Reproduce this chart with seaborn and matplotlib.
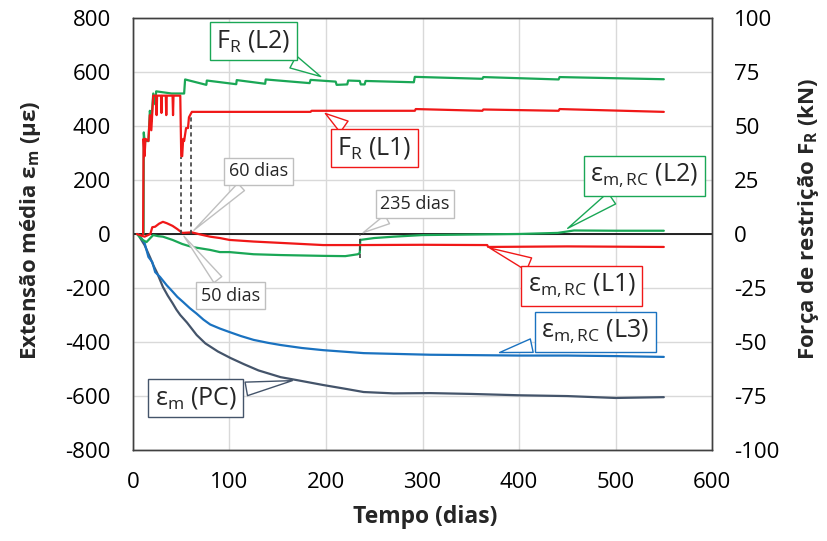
import numpy as np
import pandas as pd
import matplotlib
matplotlib.use("Agg")
import matplotlib.pyplot as plt
import seaborn as sns

sns.set_style("white")
plt.rcParams['font.family'] = ['Open Sans', 'DejaVu Sans']
plt.rcParams['mathtext.fontset'] = 'custom'
plt.rcParams['mathtext.rm'] = 'Open Sans'
plt.rcParams['mathtext.bf'] = 'Open Sans:bold'
plt.rcParams['mathtext.it'] = 'Open Sans:italic'
plt.rcParams['axes.unicode_minus'] = False

# ---- data ----
# restraint force (kN), right axis
fr_l2_t = [11, 11.2, 12, 16, 17.5, 19, 21, 23, 24, 40, 53, 54, 76, 76.5, 107, 107.5, 137, 137.5,
           183, 184, 210, 211, 222, 223, 235, 236, 240, 241, 291, 292, 362, 363, 441, 442, 550]
fr_l2_v = [0, 47, 43, 43, 57, 52, 65, 60, 66, 65, 65, 71.5, 69, 71, 69.3, 71.2, 69.5, 71.5,
           69.8, 71.3, 70.5, 69, 69.2, 71, 70.8, 69.2, 69.2, 70.8, 70.2, 72.7, 71.8, 72.6, 71.5, 72.6, 71.6]

fr_l1_t = [10.5, 11, 12, 13, 16, 17.5, 19, 21, 24, 24.5, 25, 29, 29.5, 30, 34, 34.5, 35, 41, 41.5, 42,
           49, 50, 51, 52, 53, 55, 57, 58, 61, 100, 184, 185, 292, 293, 362, 363, 441, 442, 550]
fr_l1_v = [0, 44, 36, 44, 43, 55, 48, 64, 64, 55, 64, 64, 56, 64, 64, 55, 64, 64, 55, 64,
           64, 36, 36, 44, 43, 49, 49, 54, 56.5, 56.5, 56.5, 57, 57, 57.8, 57, 57.6, 57, 57.8, 56.5]

# mean strain (microstrain), left axis
rc_l1_t = [4, 8, 12, 18, 20, 23, 27, 31, 35, 41, 46, 51, 56, 61, 70, 80, 90, 100, 125, 153, 175, 197,
           235, 300, 367, 368, 450, 500, 550]
rc_l1_v = [0, -5, -10, 0, 25, 27, 38, 45, 40, 30, 18, 4, 5, 6, -2, -10, -15, -22, -28, -33, -37, -41,
           -41, -40, -41, -48, -46, -47, -48]

rc_l2_t = [4, 10, 14, 18, 21, 26, 31, 41, 51, 61, 80, 90, 100, 125, 153, 197, 220, 233, 235, 235.5,
           250, 270, 300, 350, 400, 420, 440, 457, 500, 550]
rc_l2_v = [0, -22, -30, -15, -4, -8, -10, -22, -37, -48, -59, -67, -67, -75, -78, -81, -82, -75, -70, -22,
           -15, -10, -4, -2, 0, 2, 4, 13, 12, 12]

rc_l3_t = [5, 8, 12, 16, 20, 23, 28, 35, 41, 46, 52, 59, 66, 73, 80, 90, 100, 112, 125, 140, 153, 175,
           197, 239, 308, 400, 450, 500, 550]
rc_l3_v = [0, -12, -33, -85, -104, -141, -159, -190, -213, -233, -252, -275, -295, -317, -335, -350,
           -363, -378, -392, -403, -411, -422, -430, -441, -447, -450, -450, -452, -455]

pc_t = [5, 8, 12, 15, 18, 21, 25, 28, 31, 36, 41, 45, 49, 56, 66, 75, 88, 101, 115, 130, 153, 170,
        197, 220, 239, 270, 308, 350, 400, 450, 500, 550]
pc_v = [0, -18, -41, -65, -89, -115, -144, -170, -196, -228, -256, -280, -300, -328, -374, -405, -435,
        -459, -482, -505, -530, -541, -559, -573, -585, -590, -589, -592, -597, -600, -607, -604]

# dashed markers: day, top/bottom value (microstrain)
mark_days = [50, 60, 235]
mark_top = [285, 440, 0]
mark_bot = [0, 0, -89]

green = '#1aa756'
red = '#f01818'
blue = '#1a72c0'
dark = '#44546a'
grey = '#bfbfbf'

fig, ax = plt.subplots(figsize=(8.28, 5.41), dpi=100)
fig.subplots_adjust(left=0.1606, right=0.860, top=0.967, bottom=0.168)
ax2 = ax.twinx()

for t, v, c in [(pc_t, pc_v, dark), (rc_l3_t, rc_l3_v, blue), (rc_l2_t, rc_l2_v, green),
                (rc_l1_t, rc_l1_v, red)]:
    sns.lineplot(x=t, y=v, color=c, lw=1.6, estimator=None, sort=False, ax=ax)
for t, v, c in [(fr_l2_t, fr_l2_v, green), (fr_l1_t, fr_l1_v, red)]:
    sns.lineplot(x=t, y=v, color=c, lw=1.6, estimator=None, sort=False, ax=ax2)

ax.axhline(0, color='black', lw=1.2, zorder=1.5)
ax.vlines(mark_days, mark_bot, mark_top, colors='#404040', linestyles=(0, (2.5, 2)), lw=1.2)

ax.set_xlim(0, 600)
ax.set_ylim(-800, 800)
ax.set_xticks(range(0, 601, 100))
ax.set_yticks(range(-800, 801, 200))
ax2.set_ylim(-100, 100)
ax2.set_yticks(range(-100, 101, 25))
ax.grid(True, color='#d9d9d9', lw=1)
ax.set_axisbelow(True)
ax2.grid(False)
for a in (ax, ax2):
    a.tick_params(length=0, labelsize=16, pad=16, labelcolor='black')
    for s in a.spines.values():
        s.set_color('#404040')
        s.set_linewidth(1)

ax.set_xlabel('')
ax.set_ylabel('')
ax2.set_ylabel('')
fig.text(31 / 828, 1 - 230 / 541, r'Extensão média $\mathbf{ε_m}$ (µε)', rotation=90,
         ha='center', va='center', fontsize=16, fontweight='bold')
fig.text(809 / 828, 1 - 219 / 541, r'Força de restrição $\mathbf{F_R}$ (kN)', rotation=90,
         ha='center', va='center', fontsize=16, fontweight='bold')
fig.text(425 / 828, 1 - 517 / 541, 'Tempo (dias)', ha='center', va='center',
         fontsize=16.5, fontweight='bold')

# callouts: text, point, box centre, border colour, size
callouts = [
    (r'$\mathregular{F_R}$ (L2)', (197, 578), (125, 715), green, 18),
    (r'$\mathregular{F_R}$ (L1)', (197, 452), (250, 318), red, 18),
    ('60 dias', (61, 7), (130, 233), grey, 13),
    ('50 dias', (51, 0), (101, -229), grey, 13),
    ('235 dias', (236, 0), (292, 111), grey, 13),
    (r'$\mathregular{ε_{m,RC}}$ (L2)', (448, 15), (530, 215), green, 18),
    (r'$\mathregular{ε_{m,RC}}$ (L1)', (367, -48), (465, -193), red, 18),
    (r'$\mathregular{ε_{m,RC}}$ (L3)', (377, -441), (479, -363), blue, 18),
    (r'$\mathregular{ε_{m}}$ (PC)', (168, -541), (65, -607), dark, 18),
]
for txt, pt, ctr, c, fs in callouts:
    ax.annotate(txt, xy=pt, xytext=ctr, ha='center', va='center', fontsize=fs, zorder=5,
                bbox=dict(boxstyle='square,pad=0.25', fc='white', ec=c, lw=1),
                arrowprops=dict(arrowstyle='wedge,tail_width=0.55,shrink_factor=0.5',
                                fc='white', ec=c, lw=1))

plt.savefig('out.png', dpi=100)
